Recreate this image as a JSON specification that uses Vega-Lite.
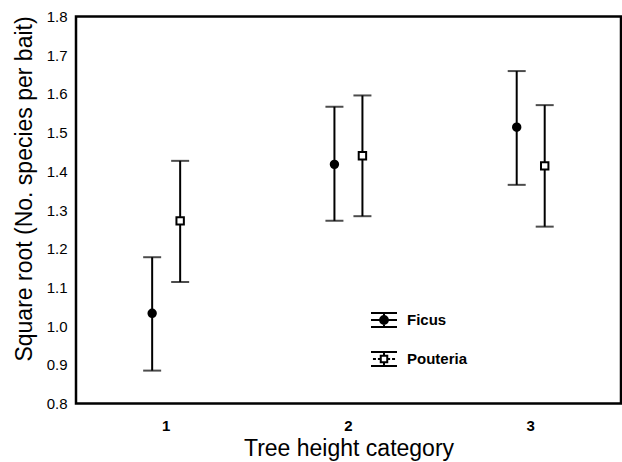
{
  "$schema": "https://vega.github.io/schema/vega-lite/v6.json",
  "width": 545,
  "height": 387,
  "autosize": "none",
  "padding": {"left": 76, "top": 16.5, "right": 1, "bottom": 58.5},
  "background": "white",
  "config": {
    "view": {"stroke": "black", "strokeWidth": 2.5},
    "font": "Liberation Sans",
    "axis": {"labelColor": "black", "titleColor": "black", "grid": false, "domain": false, "ticks": false},
    "legend": {
      "title": null,
      "orient": "none",
      "legendX": 294,
      "legendY": 289.5,
      "padding": 0,
      "rowPadding": 13,
      "symbolSize": 676,
      "symbolStrokeWidth": 2,
      "symbolStrokeColor": "black",
      "symbolOpacity": 1,
      "labelFontSize": 15,
      "labelFontWeight": "bold",
      "labelColor": "black",
      "labelOffset": 9
    }
  },
  "data": {
    "values": [
      {"category": "1", "series": "Ficus", "mean": 1.033, "lower": 0.885, "upper": 1.178},
      {"category": "1", "series": "Pouteria", "mean": 1.272, "lower": 1.114, "upper": 1.427},
      {"category": "2", "series": "Ficus", "mean": 1.418, "lower": 1.272, "upper": 1.567},
      {"category": "2", "series": "Pouteria", "mean": 1.44, "lower": 1.284, "upper": 1.596},
      {"category": "3", "series": "Ficus", "mean": 1.514, "lower": 1.365, "upper": 1.659},
      {"category": "3", "series": "Pouteria", "mean": 1.414, "lower": 1.257, "upper": 1.571}
    ]
  },
  "encoding": {
    "x": {
      "field": "category",
      "type": "ordinal",
      "scale": {"paddingInner": 0.5, "paddingOuter": 0.245},
      "axis": {
        "title": "Tree height category",
        "labelAngle": 0,
        "labelFontWeight": "bold",
        "labelFontSize": 15,
        "labelPadding": 15,
        "titleFontSize": 23,
        "titleFontWeight": "normal",
        "titlePadding": 4
      }
    },
    "xOffset": {
      "field": "series",
      "type": "nominal",
      "scale": {"type": "point", "range": [31.5, 59.5], "padding": 0}
    },
    "y": {
      "type": "quantitative",
      "scale": {"domain": [0.8, 1.8], "nice": false, "zero": false},
      "axis": {
        "title": "Square root (No. species per bait)",
        "values": [0.8, 0.9, 1.0, 1.1, 1.2, 1.3, 1.4, 1.5, 1.6, 1.7, 1.8],
        "format": ".1f",
        "labelFontSize": 15,
        "labelPadding": 9,
        "labelOverlap": false,
        "titleFontSize": 23,
        "titleFontWeight": "normal",
        "titlePadding": 10,
        "titleY": 172
      }
    }
  },
  "layer": [
    {
      "mark": {"type": "rule", "strokeWidth": 2, "color": "black"},
      "encoding": {"y": {"field": "lower"}, "y2": {"field": "upper"}}
    },
    {
      "mark": {"type": "tick", "size": 18, "thickness": 2, "color": "black"},
      "encoding": {"y": {"field": "lower"}}
    },
    {
      "mark": {"type": "tick", "size": 18, "thickness": 2, "color": "black"},
      "encoding": {"y": {"field": "upper"}}
    },
    {
      "mark": {"type": "point", "size": 55, "strokeWidth": 2, "stroke": "black", "opacity": 1, "filled": false},
      "encoding": {
        "y": {"field": "mean"},
        "shape": {"condition": {"test": "datum.series === 'Ficus'", "value": "circle"}, "value": "square"},
        "fill": {"condition": {"test": "datum.series === 'Ficus'", "value": "black"}, "value": "white"}
      }
    },
    {
      "transform": [{"filter": "false"}],
      "mark": {"type": "point", "strokeWidth": 2, "opacity": 1, "filled": false},
      "encoding": {
        "y": {"field": "mean"},
        "shape": {
          "field": "series",
          "type": "nominal",
          "scale": {
            "domain": ["Ficus", "Pouteria"],
            "range": [
              "M-1,-0.54H1M-1,0.54H1M0,-0.54V0.54M-1,0H1M-0.3,0A0.3,0.3 0 1,0 0.3,0A0.3,0.3 0 1,0 -0.3,0Z",
              "M-1,-0.54H1M-1,0.54H1M0,-0.54V-0.25M0,0.25V0.54M-0.85,0H-0.62M-0.47,0H-0.25M0.25,0H0.47M0.62,0H0.85M-0.25,-0.25H0.25V0.25H-0.25Z"
            ]
          }
        },
        "fill": {
          "field": "series",
          "type": "nominal",
          "scale": {"domain": ["Ficus", "Pouteria"], "range": ["black", "white"]}
        },
        "stroke": {
          "field": "series",
          "type": "nominal",
          "scale": {"domain": ["Ficus", "Pouteria"], "range": ["black", "black"]}
        }
      }
    }
  ]
}
